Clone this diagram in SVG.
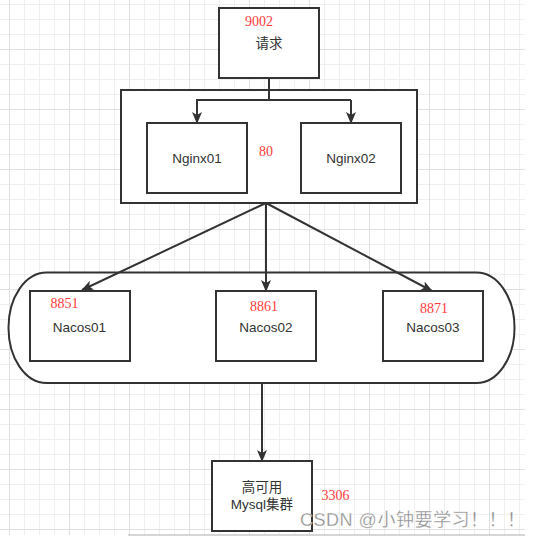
<svg xmlns="http://www.w3.org/2000/svg" width="539" height="537" viewBox="0 0 539 537">
<style>
.box{fill:#fff;stroke:#333;stroke-width:2}
.lbl{font-family:"Liberation Sans","Noto Sans CJK SC",sans-serif;font-size:13.5px;fill:#333;text-anchor:middle}
.num{font-family:"Liberation Serif",serif;font-size:14px;fill:#ff3b3b}
.edge{fill:none;stroke:#333;stroke-width:2}
</style>
<defs>
<pattern id="minor" x="9" y="4" width="15" height="15" patternUnits="userSpaceOnUse">
<path d="M0.5,0 V15 M0,0.5 H15" stroke="#efefef" stroke-width="1" fill="none"/>
</pattern>
<pattern id="major" x="9" y="49" width="60" height="60" patternUnits="userSpaceOnUse">
<path d="M0.5,0 V60 M0,0.5 H60" stroke="#e0e0e0" stroke-width="1" fill="none"/>
</pattern>
<marker id="arr" viewBox="0 0 12 10" refX="11" refY="5" markerWidth="12" markerHeight="10" markerUnits="userSpaceOnUse" orient="auto">
<path d="M0,0 L12,5 L0,10 L3,5 z" fill="#333"/>
</marker>
</defs>
<rect x="0" y="0" width="539" height="537" fill="#fff"/>
<rect x="0" y="0" width="525" height="535" fill="url(#minor)"/>
<rect x="0" y="0" width="525" height="535" fill="url(#major)"/>
<line x1="128" y1="535" x2="525" y2="535" stroke="#c8c8c8" stroke-width="1.5"/>

<g id="nginx-cluster">
<rect class="box" x="121" y="90" width="296" height="113"/>
<text class="num" x="259" y="156">80</text>
</g>
<g id="nacos-cluster">
<rect class="box" x="8.5" y="272.5" width="506" height="110.5" rx="38" ry="55"/>
</g>

<g id="connectors">
<path class="edge" d="M269,78 V100 M196,100 H351"/>
<path class="edge" d="M197,100 V123" marker-end="url(#arr)"/>
<path class="edge" d="M351,100 V123" marker-end="url(#arr)"/>
<path class="edge" d="M266,203 L82,290" marker-end="url(#arr)"/>
<path class="edge" d="M266,203 L266,291" marker-end="url(#arr)"/>
<path class="edge" d="M266,203 L432,291" marker-end="url(#arr)"/>
<path class="edge" d="M262,383 V461" marker-end="url(#arr)"/>
</g>

<g id="request">
<rect class="box" x="219" y="8" width="100" height="70"/>
<text class="num" x="245" y="26">9002</text>
<text class="lbl" x="269" y="48">请求</text>
</g>
<g id="nginx01">
<rect class="box" x="147" y="123" width="100" height="70"/>
<text class="lbl" x="197" y="163">Nginx01</text>
</g>
<g id="nginx02">
<rect class="box" x="301" y="123" width="100" height="70"/>
<text class="lbl" x="351" y="163">Nginx02</text>
</g>
<g id="nacos01">
<rect class="box" x="30" y="291" width="100" height="70"/>
<text class="num" x="50.5" y="308">8851</text>
<text class="lbl" x="79.5" y="332">Nacos01</text>
</g>
<g id="nacos02">
<rect class="box" x="216" y="291" width="100" height="70"/>
<text class="num" x="250" y="311">8861</text>
<text class="lbl" x="266" y="332">Nacos02</text>
</g>
<g id="nacos03">
<rect class="box" x="383" y="291" width="100" height="70"/>
<text class="num" x="420" y="313">8871</text>
<text class="lbl" x="433" y="332">Nacos03</text>
</g>
<g id="mysql">
<rect class="box" x="212" y="461" width="100" height="70"/>
<text class="lbl" x="262" y="492">高可用</text>
<text class="lbl" x="262" y="509">Mysql集群</text>
<text class="num" x="321.5" y="500">3306</text>
</g>
<text x="300" y="526" font-family="'Liberation Sans','Noto Sans CJK SC',sans-serif" font-size="18" textLength="225" lengthAdjust="spacing" fill="#8a8a8a" stroke="#fff" stroke-width="0.3">CSDN @小钟要学习！！！</text>
</svg>
